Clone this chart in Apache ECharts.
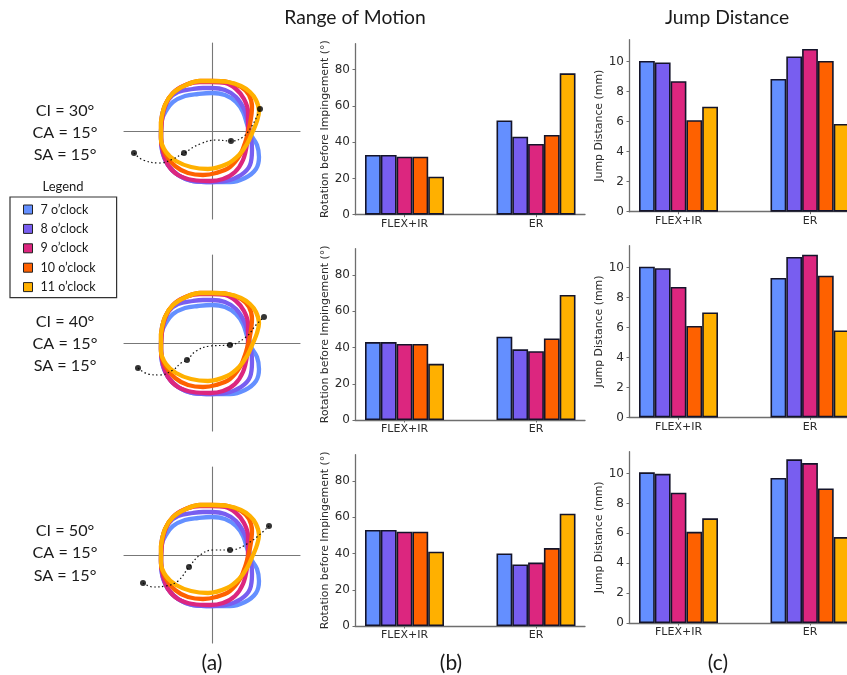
<!DOCTYPE html>
<html>
<head>
<meta charset="utf-8">
<style>html,body{margin:0;padding:0;background:#fff}#c{width:847px;height:675px}</style>
<script src="https://cdn.jsdelivr.net/npm/echarts@6/dist/echarts.min.js"></script>
</head>
<body>
<div id="c"></div>
<script>
const positions = ['7 o\u2019clock','8 o\u2019clock','9 o\u2019clock','10 o\u2019clock','11 o\u2019clock'];
const colors = ['#648FFF','#785EF0','#DC267F','#FE6100','#FFB000'];
const motions = ['FLEX+IR','ER'];

// Range of motion (degrees): [FLEX+IR, ER] per clock position, one array per row
const romRow1 = [[33,52],[33,43],[32,39],[32,44],[21,78]];
const romRow2 = [[43,46],[43,39],[42,38],[42,45],[31,69]];
const romRow3 = [[53,40],[53,34],[52,35],[52,43],[41,62]];

// Jump distance (mm)
const jumpRow1 = [[10.05,8.85],[9.95,10.35],[8.7,10.85],[6.1,10.05],[7.0,5.85]];
const jumpRow2 = [[10.05,9.3],[9.95,10.7],[8.7,10.85],[6.1,9.45],[7.0,5.8]];
const jumpRow3 = [[10.08,9.7],[9.98,10.95],[8.72,10.7],[6.1,9.0],[7.0,5.75]];

const romTicks = [0,20,40,60,80];
const jumpTicks = [0,2,4,6,8,10];

// Rim outlines
const curve7 = [[-46,20],[-39,29],[-27,35],[-14,37],[0,38],[13,36],[24,29],[31,19],[35,7],[39,-4],[45,-14],[47,-26],[44,-38],[33,-47],[18,-51],[0,-51],[-19,-50],[-34,-44],[-44,-34],[-50,-19],[-51,-3],[-50,11],[-46,20]];
const curve8 = [[-50,16],[-44,31],[-34,39],[-19,42],[-9,43],[0,43],[13,41],[24,34],[32,22],[36,9],[39,-6],[40,-19],[38,-34],[29,-44],[14,-50],[0,-51],[-19,-50],[-34,-44],[-44,-34],[-50,-19],[-51,-3],[-50,16]];
const curve9 = [[-50,11],[-46,27],[-37,40],[-24,47],[-12,49],[0,49],[13,48],[24,42],[32,32],[36,19],[36,4],[35,-13],[31,-29],[23,-41],[11,-48],[-2,-50],[-19,-49],[-34,-44],[-44,-34],[-49,-21],[-51,-6],[-50,11]];
const curve10 = [[-51,9],[-47,26],[-39,38],[-26,46],[-12,50],[0,50],[16,49],[29,44],[37,36],[40,24],[38,7],[34,-9],[28,-24],[18,-36],[4,-42],[-9,-44],[-24,-42],[-37,-35],[-46,-24],[-51,-9],[-51,9]];
const curve11 = [[-51,9],[-47,26],[-39,38],[-26,46],[-12,50],[0,50],[16,49],[29,45],[38,39],[44,31],[47,20],[45,10],[41,0],[35,-13],[27,-24],[15,-33],[-4,-38],[-21,-36],[-36,-30],[-46,-21],[-51,-8],[-51,9]];

// Dotted paths and their four dots
const path1 = [[-78,-22],[-69,-29],[-52,-32],[-39,-28],[-28,-22],[-12,-13],[4,-9],[19,-10],[31,-6],[41,7],[48,22]];
const path2 = [[-74,-25],[-64,-31],[-52,-32],[-39,-27],[-31,-20],[-25,-17],[-16,-8],[-2,-3],[18,-2],[34,6],[44,18],[52,26]];
const path3 = [[-69,-28],[-59,-32],[-46,-31],[-34,-26],[-23,-12],[-12,0],[1,5],[18,5],[38,13],[57,29]];
const dots1 = [[-78,-22],[-28,-22],[19,-10],[48,22]];
const dots2 = [[-74,-25],[-25,-17],[18,-2],[52,26]];
const dots3 = [[-69,-28],[-23,-12],[18,5],[57,29]];

const paramRows = [['CI = 30\u00b0','CA = 15\u00b0','SA = 15\u00b0'],['CI = 40\u00b0','CA = 15\u00b0','SA = 15\u00b0'],['CI = 50\u00b0','CA = 15\u00b0','SA = 15\u00b0']];

const LATO = 'Lato, "Open Sans", sans-serif';
const DEJA = '"DejaVu Sans", sans-serif';
const AXIS = '#6e6e6e';
const TXT = '#2b2b2b';

const grids = [], xAxes = [], yAxes = [], series = [], titles = [];

function addText(text, cx, top, size, family, color){
  titles.push({text, left:cx, top, textAlign:'center', padding:0, itemGap:0,
    textStyle:{fontFamily:family||LATO, fontSize:size, fontWeight:'normal', color:color||'#1a1a1a'}});
}

function barPanel(values, ticks, left, top, zero, unitPx, name, gap){
  const idx = grids.length;
  const height = zero - top;
  const centerStep = 131.5, firstCenter = 49.5, width = 230;
  grids.push({left, top, width, height, containLabel:false, outerBoundsMode:'none'});
  xAxes.push({gridIndex:idx, type:'value', min:-firstCenter/centerStep, max:(width-firstCenter)/centerStep,
    splitLine:{show:false},
    axisLine:{show:true, onZero:false, lineStyle:{color:AXIS, width:1.3}},
    axisTick:{show:true, length:2.5, customValues:[0,1], lineStyle:{color:AXIS}},
    axisLabel:{show:true, customValues:[0,1], formatter:v=>motions[Math.round(v)], margin:4, fontFamily:DEJA, fontSize:11, color:TXT}});
  yAxes.push({gridIndex:idx, type:'value', min:0, max:height/unitPx,
    name, nameLocation:'middle', nameGap:gap, nameRotate:90,
    nameTextStyle:{fontFamily:DEJA, fontSize:10.9, color:TXT},
    splitLine:{show:false},
    axisLine:{show:true, onZero:false, lineStyle:{color:AXIS, width:1.3}},
    axisTick:{show:true, length:2.5, customValues:ticks, lineStyle:{color:AXIS}},
    axisLabel:{show:true, customValues:ticks, margin:5, fontFamily:DEJA, fontSize:12, color:TXT}});
  values.forEach((v,i)=>{
    series.push({type:'bar', name:positions[i], xAxisIndex:idx, yAxisIndex:idx,
      barWidth:15.8, barGap:'0%', silent:true, animation:false,
      itemStyle:{color:colors[i], borderColor:'#14142a', borderWidth:1.6},
      data:motions.map((m,k)=>[k, v[k]])});
  });
}

function diagram(top, path, dots){
  const idx = grids.length;
  grids.push({left:124, top, width:176, height:176, outerBoundsMode:'none'});
  const ax = {gridIndex:idx, type:'value', min:-88, max:88, splitLine:{show:false}, axisTick:{show:false}, axisLabel:{show:false},
    axisLine:{show:true, onZero:true, lineStyle:{color:'#777', width:1.1}}};
  xAxes.push(Object.assign({}, ax));
  yAxes.push(Object.assign({}, ax));
  [curve7,curve8,curve9,curve10,curve11].forEach((c,i)=>{
    series.push({type:'line', name:'rim '+positions[i], xAxisIndex:idx, yAxisIndex:idx, data:c, smooth:0.38, showSymbol:false,
      silent:true, animation:false, clip:false, lineStyle:{color:colors[i], width:4.3, cap:'round', join:'round'}, z:3+i});
  });
  series.push({type:'line', name:'path', xAxisIndex:idx, yAxisIndex:idx, data:path, smooth:0.4, showSymbol:false, silent:true, animation:false,
    lineStyle:{color:'#111', width:1.2, type:[1.5,2.5]}, z:10});
  series.push({type:'scatter', name:'dots', xAxisIndex:idx, yAxisIndex:idx, data:dots, symbolSize:6, silent:true, animation:false,
    itemStyle:{color:'#000'}, z:11});
}

// bars first, so the legend reads their styling
barPanel(romRow1, romTicks, 355, 43.7, 214.7, 145/80, 'Rotation before Impingement (\u00b0)', 23);
barPanel(romRow2, romTicks, 355, 248.7, 420, 145/80, 'Rotation before Impingement (\u00b0)', 23);
barPanel(romRow3, romTicks, 355, 454.7, 626, 145/80, 'Rotation before Impingement (\u00b0)', 23);
barPanel(jumpRow1, jumpTicks, 629, 39.7, 211.7, 15, 'Jump Distance (mm)', 21);
barPanel(jumpRow2, jumpTicks, 629, 245.7, 417.4, 15, 'Jump Distance (mm)', 21);
barPanel(jumpRow3, jumpTicks, 629, 451.7, 623, 14.95, 'Jump Distance (mm)', 21);

diagram(43, path1, dots1);
diagram(255, path2, dots2);
diagram(467, path3, dots3);

addText('Range of Motion', 355, 8, 19.3);
addText('Jump Distance', 727, 8, 19.3);
addText('(a)', 212, 653, 21);
addText('(b)', 451, 653, 21);
addText('(c)', 718, 653, 21);
addText('Legend', 63, 180, 13);
[[103,125,147],[314,336,358],[523,545,568]].forEach((tops,r)=>{
  paramRows[r].forEach((t,k)=>addText(t, 65, tops[k], 16.2));
});

const chart = echarts.init(document.getElementById('c'), null, {renderer:'canvas', width:847, height:675});
chart.setOption({
  animation:false,
  backgroundColor:'#fff',
  title:titles,
  grid:grids, xAxis:xAxes, yAxis:yAxes, series,
  legend:{data:positions, orient:'vertical', left:10, top:197, selectedMode:false, icon:'rect',
    padding:[6,21,4,13], itemWidth:9, itemHeight:9, itemGap:6.4, align:'left',
    borderColor:'#333', borderWidth:1.2,
    textStyle:{fontFamily:LATO, fontSize:12.5, color:'#1a1a1a', padding:[0,0,0,3]},
    itemStyle:{borderColor:'#222', borderWidth:1}}
});
</script>
</body>
</html>
